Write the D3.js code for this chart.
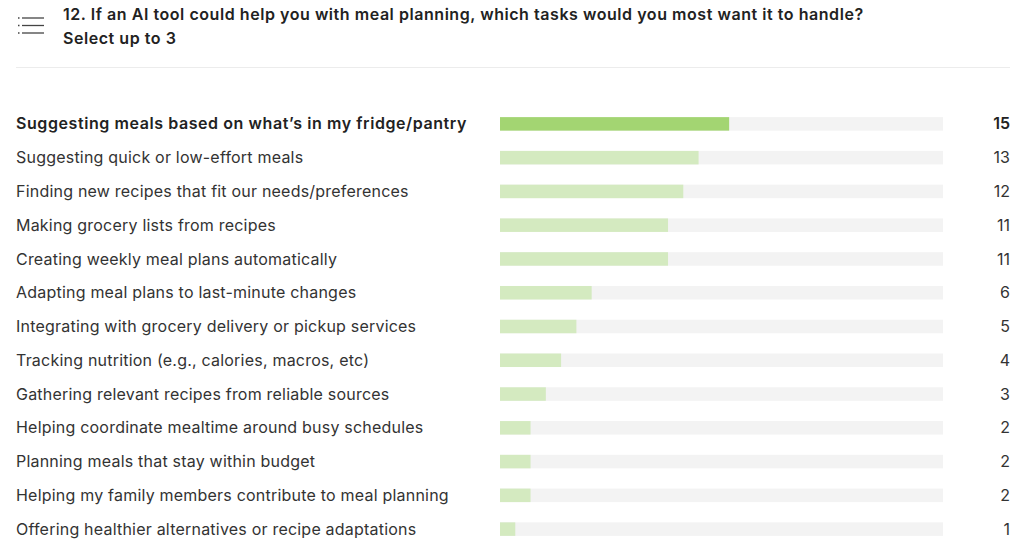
<!DOCTYPE html>
<html lang="en">
<head>
  <meta charset="UTF-8">
  <title>Meal planning AI tasks</title>
  <script src="https://d3js.org/d3.v7.min.js"></script>
  <style>
    body { margin: 0; background: #fff; font-family: Inter, "Open Sans", sans-serif; }
    svg { display: block; }
  </style>
</head>
<body>
<svg width="1024" height="548"></svg>
<script>
const tasks = [
  "Suggesting meals based on what’s in my fridge/pantry",
  "Suggesting quick or low-effort meals",
  "Finding new recipes that fit our needs/preferences",
  "Making grocery lists from recipes",
  "Creating weekly meal plans automatically",
  "Adapting meal plans to last-minute changes",
  "Integrating with grocery delivery or pickup services",
  "Tracking nutrition (e.g., calories, macros, etc)",
  "Gathering relevant recipes from reliable sources",
  "Helping coordinate mealtime around busy schedules",
  "Planning meals that stay within budget",
  "Helping my family members contribute to meal planning",
  "Offering healthier alternatives or recipe adaptations"
];
const counts = [15, 13, 12, 11, 11, 6, 5, 4, 3, 2, 2, 2, 1];
const respondents = 29;

const svg = d3.select("svg");

// header
const icon = svg.append("g").attr("stroke", "#444").attr("stroke-width", 1.3);
[18, 25.5, 33].forEach(y => {
  icon.append("line").attr("x1", 18).attr("x2", 19.5).attr("y1", y).attr("y2", y);
  icon.append("line").attr("x1", 22).attr("x2", 44).attr("y1", y).attr("y2", y);
});

svg.append("text").attr("x", 63).attr("y", 20)
  .attr("font-size", 16).attr("font-weight", 600).attr("fill", "#222")
  .attr("letter-spacing", 0.55)
  .text("12. If an AI tool could help you with meal planning, which tasks would you most want it to handle?");
svg.append("text").attr("x", 63).attr("y", 44)
  .attr("font-size", 16).attr("font-weight", 600).attr("fill", "#222")
  .attr("letter-spacing", 0.55)
  .text("Select up to 3");

svg.append("line").attr("x1", 16).attr("x2", 1010).attr("y1", 67.5).attr("y2", 67.5)
  .attr("stroke", "#ececec");

const x = d3.scaleLinear().domain([0, respondents]).range([500, 943]);
const y = d3.scaleBand().domain(tasks).range([107, 546]).paddingInner(0.6).paddingOuter(0.3);

const maxVal = d3.max(counts);
const rows = svg.append("g").selectAll("g")
  .data(tasks.map((t, i) => ({ task: t, value: counts[i] })))
  .join("g");

rows.append("rect")
  .attr("x", x(0)).attr("y", d => y(d.task))
  .attr("width", x(respondents) - x(0)).attr("height", y.bandwidth())
  .attr("fill", "#f3f3f3");

rows.append("rect")
  .attr("x", x(0)).attr("y", d => y(d.task))
  .attr("width", d => x(d.value) - x(0)).attr("height", y.bandwidth())
  .attr("fill", d => d.value === maxVal ? "#a3d572" : "#d4eac0");

rows.append("text")
  .attr("x", 16).attr("y", d => y(d.task) + y.bandwidth() / 2)
  .attr("dy", "0.35em")
  .attr("font-size", 16)
  .attr("font-weight", d => d.value === maxVal ? 600 : 400)
  .attr("letter-spacing", d => d.value === maxVal ? 0.58 : 0.21)
  .attr("fill", d => d.value === maxVal ? "#222" : "#333")
  .text(d => d.task);

rows.append("text")
  .attr("x", 1010).attr("y", d => y(d.task) + y.bandwidth() / 2)
  .attr("dy", "0.35em").attr("text-anchor", "end")
  .attr("font-size", 16)
  .attr("font-weight", d => d.value === maxVal ? 600 : 400)
  .attr("fill", d => d.value === maxVal ? "#222" : "#333")
  .text(d => d.value);
</script>
</body>
</html>
